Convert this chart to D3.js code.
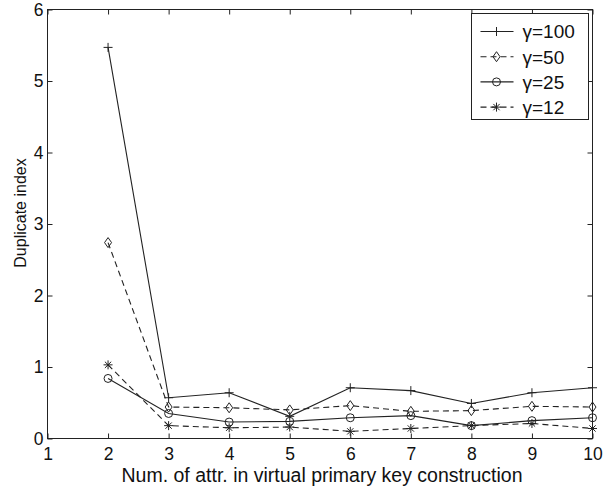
<!DOCTYPE html>
<html>
<head>
<meta charset="utf-8">
<script src="https://cdn.jsdelivr.net/npm/d3@7"></script>
<style>
  body { margin: 0; background: #fff; }
  svg { font-family: "Liberation Sans", Arial, sans-serif; }
</style>
</head>
<body>
<svg width="603" height="489"></svg>
<script>
var xValues = [2, 3, 4, 5, 6, 7, 8, 9, 10];
var gamma100 = [5.47, 0.57, 0.64, 0.31, 0.71, 0.67, 0.49, 0.64, 0.71];
var gamma50 = [2.74, 0.44, 0.43, 0.40, 0.46, 0.38, 0.39, 0.45, 0.44];
var gamma25 = [0.84, 0.35, 0.23, 0.24, 0.29, 0.32, 0.18, 0.25, 0.29];
var gamma12 = [1.03, 0.18, 0.15, 0.16, 0.10, 0.14, 0.18, 0.21, 0.14];
var seriesNames = ["\u03b3=100", "\u03b3=50", "\u03b3=25", "\u03b3=12"];
var xTicks = [1, 2, 3, 4, 5, 6, 7, 8, 9, 10];
var yTicks = [0, 1, 2, 3, 4, 5, 6];

var svg = d3.select("svg"),
    margin = {top: 9.5, right: 10.5, bottom: 50.5, left: 47.5},
    width = +svg.attr("width") - margin.left - margin.right,
    height = +svg.attr("height") - margin.top - margin.bottom,
    g = svg.append("g").attr("transform", "translate(" + margin.left + "," + margin.top + ")");

var x = d3.scaleLinear().domain([1, 10]).range([0, width]);
var y = d3.scaleLinear().domain([0, 6]).range([height, 0]);

var ink = "#222";

// markers drawn as small paths centred on 0,0
function plusPath(s) { return "M" + -s + ",0H" + s + "M0," + -s + "V" + s; }
function diamondPath(s) { return "M0," + -s + "L" + s * 0.7 + ",0L0," + s + "L" + -s * 0.7 + ",0Z"; }
function circlePath(s) { return "M" + s + ",0A" + s + "," + s + " 0 1,1 " + -s + ",0A" + s + "," + s + " 0 1,1 " + s + ",0Z"; }
function starPath(s) {
  var d = s * 0.7;
  return plusPath(s) + "M" + -d + "," + -d + "L" + d + "," + d + "M" + -d + "," + d + "L" + d + "," + -d;
}

var series = [
  {name: seriesNames[0], values: gamma100, dash: null, marker: plusPath(4.5)},
  {name: seriesNames[1], values: gamma50, dash: "6,4", marker: diamondPath(5)},
  {name: seriesNames[2], values: gamma25, dash: null, marker: circlePath(4)},
  {name: seriesNames[3], values: gamma12, dash: "6,4", marker: starPath(4.5)}
];

// axes box
g.append("rect")
    .attr("width", width)
    .attr("height", height)
    .attr("fill", "none")
    .attr("stroke", ink)
    .attr("stroke-width", 1);

function styleAxis(sel) {
  sel.select(".domain").remove();
  sel.selectAll("line").attr("stroke", ink);
  sel.selectAll("text").attr("fill", "#111").style("font-size", "17.5px");
}

g.append("g")
    .attr("transform", "translate(0," + height + ")")
    .call(d3.axisBottom(x).tickValues(xTicks).tickSizeInner(-5).tickSizeOuter(0).tickPadding(9).tickFormat(d3.format("d")))
    .call(styleAxis);

g.append("g")
    .call(d3.axisTop(x).tickValues(xTicks).tickSizeInner(-5).tickSizeOuter(0).tickFormat(""))
    .call(styleAxis);

g.append("g")
    .call(d3.axisLeft(y).tickValues(yTicks).tickSizeInner(-5).tickSizeOuter(0).tickPadding(4).tickFormat(d3.format("d")))
    .call(styleAxis);

g.append("g")
    .attr("transform", "translate(" + width + ",0)")
    .call(d3.axisRight(y).tickValues(yTicks).tickSizeInner(-5).tickSizeOuter(0).tickFormat(""))
    .call(styleAxis);

// axis titles
svg.append("text")
    .attr("x", margin.left + width / 2 + 2)
    .attr("y", 482)
    .attr("text-anchor", "middle")
    .style("font-size", "19.5px")
    .attr("fill", "#111")
    .text("Num. of attr. in virtual primary key construction");

svg.append("text")
    .attr("transform", "translate(26,213) rotate(-90)")
    .attr("text-anchor", "middle")
    .style("font-size", "16px")
    .attr("fill", "#111")
    .text("Duplicate index");

// lines
var line = d3.line()
    .x(function(d, i) { return x(xValues[i]); })
    .y(function(d) { return y(d); });

var s = g.selectAll(".series")
  .data(series)
  .enter().append("g")
    .attr("class", "series");

s.append("path")
    .attr("d", function(d) { return line(d.values); })
    .attr("fill", "none")
    .attr("stroke", ink)
    .attr("stroke-width", 1.1)
    .attr("stroke-dasharray", function(d) { return d.dash; });

s.each(function(d) {
  d3.select(this).selectAll(".mark")
    .data(d.values)
    .enter().append("path")
      .attr("class", "mark")
      .attr("transform", function(v, i) { return "translate(" + x(xValues[i]) + "," + y(v) + ")"; })
      .attr("d", d.marker)
      .attr("fill", "none")
      .attr("stroke", ink)
      .attr("stroke-width", 1);
});

// legend
var legend = svg.append("g").attr("transform", "translate(471.5,13.5)");
legend.append("rect")
    .attr("width", 117)
    .attr("height", 106)
    .attr("fill", "#fff")
    .attr("stroke", ink);

var item = legend.selectAll(".item")
  .data(series)
  .enter().append("g")
    .attr("class", "item")
    .attr("transform", function(d, i) { return "translate(0," + (18 + i * 25.2) + ")"; });

item.append("path")
    .attr("d", "M9,0H42")
    .attr("stroke", ink)
    .attr("stroke-width", 1.1)
    .attr("stroke-dasharray", function(d) { return d.dash; });

item.append("path")
    .attr("transform", "translate(25,0)")
    .attr("d", function(d) { return d.marker; })
    .attr("fill", "none")
    .attr("stroke", ink);

item.append("text")
    .attr("x", 51)
    .attr("dy", "0.36em")
    .style("font-size", "19px")
    .attr("fill", "#111")
    .text(function(d) { return d.name; });
</script>
</body>
</html>
